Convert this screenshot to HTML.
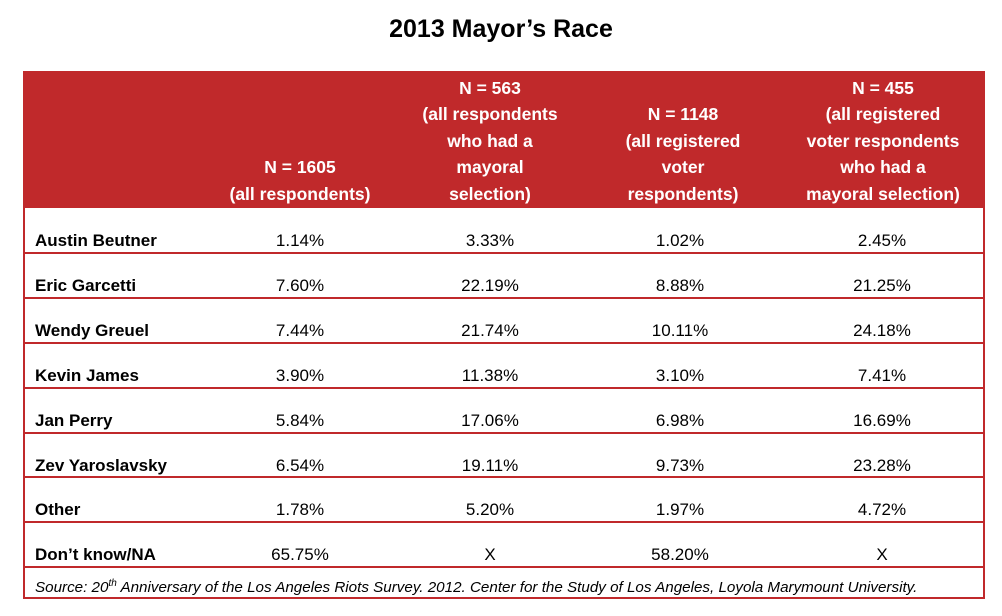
<!DOCTYPE html>
<html><head><meta charset="utf-8">
<style>
body{margin:0;width:1002px;height:616px;background:#fff;font-family:"Liberation Sans",sans-serif;position:relative;overflow:hidden}
.abs{position:absolute}
#title{left:0;width:1002px;top:15px;text-align:center;font-weight:bold;font-size:25px;color:#000}
#frame{left:23px;top:71px;width:958px;height:526px;border:2px solid #c0292b;border-top:none}
#hdr{left:23px;top:71px;width:962px;height:137px;background:#c0292b}
.h{position:absolute;bottom:1px;color:#fff;font-weight:bold;font-size:17.5px;line-height:26.5px;text-align:center;transform:translateX(-50%);white-space:nowrap}
.line{position:absolute;left:23px;width:960px;height:2px;background:#c0292b}
.lab{position:absolute;left:35px;font-weight:bold;font-size:17px;color:#000}
.v{position:absolute;font-size:17px;color:#000;transform:translateX(-50%)}
#src{left:35px;top:578px;font-style:italic;font-size:15.2px;color:#000;white-space:nowrap}
</style></head><body>
<div id="title" class="abs">2013 Mayor’s Race</div>
<div id="hdr" class="abs">
 <div class="h" style="left:277px">N = 1605<br>(all respondents)</div>
 <div class="h" style="left:467px">N = 563<br>(all respondents<br>who had a<br>mayoral<br>selection)</div>
 <div class="h" style="left:660px">N = 1148<br>(all registered<br>voter<br>respondents)</div>
 <div class="h" style="left:860px">N = 455<br>(all registered<br>voter respondents<br>who had a<br>mayoral selection)</div>
</div>
<div id="frame" class="abs"></div>
<div id="rows"></div>
<div id="src" class="abs">Source: 20<sup style="font-size:10px">th</sup> Anniversary of the Los Angeles Riots Survey. 2012. Center for the Study of Los Angeles, Loyola Marymount University.</div>
<script>
const candidates=["Austin Beutner","Eric Garcetti","Wendy Greuel","Kevin James","Jan Perry","Zev Yaroslavsky","Other","Don’t know/NA"];
const col1=["1.14%","7.60%","7.44%","3.90%","5.84%","6.54%","1.78%","65.75%"];
const col2=["3.33%","22.19%","21.74%","11.38%","17.06%","19.11%","5.20%","X"];
const col3=["1.02%","8.88%","10.11%","3.10%","6.98%","9.73%","1.97%","58.20%"];
const col4=["2.45%","21.25%","24.18%","7.41%","16.69%","23.28%","4.72%","X"];
const cols=[col1,col2,col3,col4];
const cx=[300,490,680,882];
const root=document.getElementById('rows');
const top0=208,rh=44.9;
candidates.forEach((c,i)=>{
  const y=top0+i*rh;
  const l=document.createElement('div');l.className='lab';l.style.top=(y+23)+'px';l.textContent=c;
  
  
  root.appendChild(l);
  cols.forEach((col,j)=>{
    const v=document.createElement('div');v.className='v';v.style.left=cx[j]+'px';v.style.top=(y+23)+'px';v.textContent=col[i];
    
    
    root.appendChild(v);
  });
  const ln=document.createElement('div');ln.className='line';ln.style.top=Math.round(y+rh-1)+'px';
  
  
  root.appendChild(ln);
});
</script>
</body></html>
